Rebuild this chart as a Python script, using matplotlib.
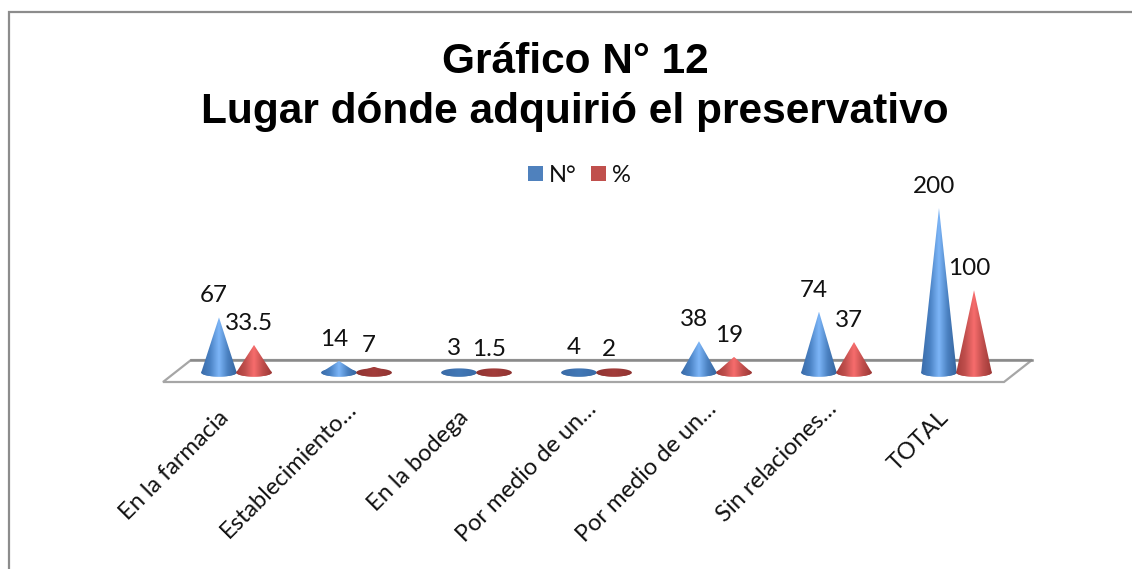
import numpy as np
import matplotlib
matplotlib.use("Agg")
import matplotlib.pyplot as plt
from matplotlib.colors import LinearSegmentedColormap
from matplotlib.patches import Polygon, Rectangle
from matplotlib.transforms import ScaledTranslation

categories = ["En la farmacia", "Establecimiento…", "En la bodega", "Por medio de un…",
              "Por medio de un…", "Sin relaciones…", "TOTAL"]
numero = [67, 14, 3, 4, 38, 74, 200]
porcentaje = [33.5, 7, 1.5, 2, 19, 37, 100]
numero_labels = ["67", "14", "3", "4", "38", "74", "200"]
porcentaje_labels = ["33.5", "7", "1.5", "2", "19", "37", "100"]

W, H = 1132, 569
BLUE = LinearSegmentedColormap.from_list("b", ["#3a6ba8", "#4a82c4", "#7db6f8", "#4a80c0", "#35649c"])
RED = LinearSegmentedColormap.from_list("r", ["#a53c3a", "#c04f4d", "#f76d6d", "#c04e4c", "#9c3836"])
# the nearly flat cones have no highlight, only the dark base
BLUE_FLAT = LinearSegmentedColormap.from_list("bf", ["#3a6ba6", "#4278b6", "#3a6ba6"])
RED_FLAT = LinearSegmentedColormap.from_list("rf", ["#8f3432", "#a33d3b", "#8f3432"])


def px_x(p):
    return p / W


def px_y(p):
    return 1 - p / H


def cone(ax, x, val, cmap, half=0.148, ry=5.0):
    t = np.linspace(np.pi, 2 * np.pi, 40)
    ex = x + half * np.cos(t)
    ey = ry * np.sin(t)
    body = np.column_stack([np.r_[x, ex], np.r_[val, ey]])
    t2 = np.linspace(0, 2 * np.pi, 80)
    base = np.column_stack([x + half * np.cos(t2), ry * np.sin(t2)])
    for pts in (body, base):
        grad = np.linspace(0, 1, 128).reshape(1, -1)
        im = ax.imshow(grad, extent=(x - half, x + half, -ry, max(val, ry)), cmap=cmap,
                       aspect="auto", zorder=3, interpolation="bilinear")
        clip = Polygon(pts, closed=True, transform=ax.transData, fc="none", ec="none")
        ax.add_patch(clip)
        clip.set_clip_on(False)
        im.set_clip_path(clip)
        # base ellipse hangs below the axes, image would get cut at axes bbox otherwise
        im.set_clip_box(fig.bbox)


fig = plt.figure(figsize=(W / 100, H / 100), dpi=100, facecolor="white")

# pixel overlay for chart frame and floor
bg = fig.add_axes([0, 0, 1, 1], zorder=0)
bg.set_xlim(0, W)
bg.set_ylim(H, 0)
bg.axis("off")
bg.plot([8.5, 8.5, W], [H, 12, 12], color="#8c8c8c", lw=1.6, solid_joinstyle="miter")
bg.add_patch(Polygon([(163, 382), (191, 360), (1032, 360), (1004, 382)], closed=True,
                     fc="white", ec="#a6a6a6", lw=1.6))
bg.plot([191, 1032], [360, 360], color="#8a8a8a", lw=1.8)

# plot axes: x=-0.5..6.5 is 176.5..1016.5 px, y=0..200 is 372.5..208 px
ax = fig.add_axes([px_x(176.5), px_y(372.5), 840 / W, 164.5 / H], zorder=1)
ax.patch.set_alpha(0)
ax.set_xlim(-0.5, 6.5)
ax.set_ylim(0, 200)
for s in ax.spines.values():
    s.set_visible(False)
ax.set_yticks([])
ax.set_xticks(np.arange(len(categories)) - 0.157)
ax.set_xticklabels(categories, rotation=45, ha="right", rotation_mode="anchor",
                   family="Lato", fontsize=17, color="#111111")
ax.tick_params(axis="x", length=0, pad=25)
# truncated labels sit further along the diagonal
for lab in ax.get_xticklabels():
    if lab.get_text().endswith("…"):
        lab.set_transform(lab.get_transform() + ScaledTranslation(8 / 100, 9 / 100, fig.dpi_scale_trans))

for i, (n, p) in enumerate(zip(numero, porcentaje)):
    cone(ax, i - 0.146, n, BLUE if n >= 10 else BLUE_FLAT)
    cone(ax, i + 0.146, p, RED if p >= 10 else RED_FLAT)
    ax.annotate(numero_labels[i], (i - 0.146, n), xytext=(-3.5, 15.5), textcoords="offset points",
                ha="center", va="center", family="Lato", fontsize=17.5, color="#111111",
                annotation_clip=False, zorder=5)
    ax.annotate(porcentaje_labels[i], (i + 0.146, p), xytext=(-3.5, 15.5), textcoords="offset points",
                ha="center", va="center", family="Lato", fontsize=17.5, color="#111111",
                annotation_clip=False, zorder=5)
ax.set_xlim(-0.5, 6.5)
ax.set_ylim(0, 200)

fig.text(px_x(575), px_y(87), "Gráfico N° 12\nLugar dónde adquirió el preservativo",
         ha="center", va="center", family="Liberation Sans", fontweight="bold",
         fontsize=30.5, color="black", linespacing=1.31)

handles = [Rectangle((0, 0), 1, 1, fc="#4f81bd"), Rectangle((0, 0), 1, 1, fc="#c0504d")]
fig.legend(handles, ["N°", "%"], loc="center", bbox_to_anchor=(px_x(579.5), px_y(175)), ncol=2,
           frameon=False, prop={"family": "Lato", "size": 17}, handlelength=0.63, handleheight=0.6,
           handletextpad=0.27, columnspacing=0.6, labelcolor="#111111")

fig.savefig("out.png", dpi=100)
